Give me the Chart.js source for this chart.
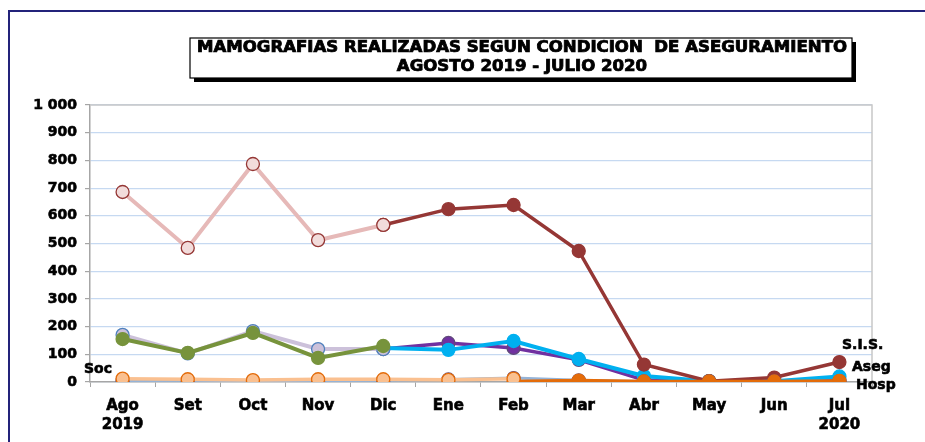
<!DOCTYPE html>
<html>
<head>
<meta charset="utf-8">
<script src="https://cdn.jsdelivr.net/npm/chart.js@4"></script>
<style>
html,body{margin:0;padding:0;background:#fff;}
#wrap{width:925px;height:442px;position:relative;}
</style>
</head>
<body>
<div id="wrap"><canvas id="c" width="925" height="442"></canvas></div>
<script>
// datos
const meses = [['Ago','2019'],'Set','Oct','Nov','Dic','Ene','Feb','Mar','Abr','May','Jun',['Jul','2020']];
const yTicks = [0,100,200,300,400,500,600,700,800,900,1000];

const sis2019  = [686,484,787,512,567,null,null,null,null,null,null,null];
const sis2020  = [null,null,null,null,567,624,639,473,63,3,16,72];
const aseg2019 = [170,103,184,119,119,null,null,null,null,null,null,null];
const aseg2020 = [null,null,null,null,119,141,123,80,7,3,4,8];
const verde    = [155,105,177,87,130,null,null,null,null,null,null,null];
const celeste  = [null,null,null,null,123,116,148,83,22,3,3,20];
const soc      = [5,6,4,5,6,9,14,6,2,2,2,3];
const hosp2019 = [12,10,7,10,10,8,12,null,null,null,null,null];
const hosp2020 = [null,null,null,null,null,null,2,5,2,2,2,4];

const FONT = '"DejaVu Sans", Verdana, sans-serif';

function serie(data, line, fill, border, order, lw){
    return {
        data: data,
        borderColor: line,
        backgroundColor: fill,
        pointBackgroundColor: fill,
        pointBorderColor: border,
        pointBorderWidth: 1.3,
        pointRadius: 6.5,
        borderWidth: lw || 3.5,
        spanGaps: false,
        tension: 0,
        order: order
    };
}

function negrita(ctx, txt, x, y){
    ctx.fillText(txt, x, y);
    ctx.strokeText(txt, x, y);
}

const decor = {
    id: 'decor',
    beforeDraw(chart){
        const ctx = chart.ctx;
        ctx.save();
        ctx.fillStyle = '#fff';
        ctx.fillRect(0,0,chart.width,chart.height);
        ctx.restore();
    },
    afterDraw(chart){
        const ctx = chart.ctx;
        const a = chart.chartArea;
        ctx.save();
        // marco exterior
        ctx.strokeStyle = '#23237a';
        ctx.lineWidth = 2;
        ctx.beginPath();
        ctx.moveTo(9,442); ctx.lineTo(9,11); ctx.lineTo(925,11);
        ctx.stroke();
        // borde area de trazado
        ctx.strokeStyle = '#c8c8c8';
        ctx.lineWidth = 1.5;
        ctx.beginPath();
        ctx.moveTo(a.left,a.top); ctx.lineTo(a.right,a.top); ctx.lineTo(a.right,a.bottom);
        ctx.stroke();

        // caja del titulo
        const bx = 190, by = 38, bw = 662, bh = 40;
        ctx.fillStyle = '#000';
        ctx.fillRect(bx+4, by+4, bw, bh);
        ctx.fillStyle = '#fff';
        ctx.fillRect(bx, by, bw, bh);
        ctx.strokeStyle = '#000';
        ctx.lineWidth = 1.2;
        ctx.strokeRect(bx, by, bw, bh);

        ctx.fillStyle = '#000';
        ctx.lineWidth = 0.7;
        ctx.font = 'bold 15px "DejaVu Sans Condensed", ' + FONT;
        ctx.textAlign = 'center';
        ctx.textBaseline = 'middle';
        const t1 = 'MAMOGRAFIAS REALIZADAS SEGUN CONDICION  DE ASEGURAMIENTO';
        const t2 = 'AGOSTO 2019 - JULIO 2020';
        const k = 650 / ctx.measureText(t1).width;
        [[t1,48],[t2,67]].forEach(function(t){
            ctx.save();
            ctx.translate(522, t[1]);
            ctx.scale(k, 1);
            negrita(ctx, t[0], 0, 0);
            ctx.restore();
        });

        // etiquetas de series
        ctx.font = 'bold 14px ' + FONT;
        ctx.lineWidth = 0.6;
        ctx.textAlign = 'left';
        negrita(ctx, 'Soc', 84, 369);
        negrita(ctx, 'S.I.S.', 842, 345);
        negrita(ctx, 'Aseg', 852, 367);
        negrita(ctx, 'Hosp', 856, 385);
        ctx.restore();
    }
};

new Chart(document.getElementById('c'), {
    type: 'line',
    data: {
        labels: meses,
        datasets: [
            serie(hosp2019, '#fac090', '#fac090', '#e46c0a', 1),
            serie(hosp2020, '#e46c0a', '#e46c0a', '#e46c0a', 2),
            serie(soc, '#95b3d7', '#8064a2', '#604a7b', 3, 3),
            serie(sis2019, '#e6b9b8', '#f2dcdb', '#953735', 4, 4),
            serie(sis2020, '#953735', '#953735', '#953735', 5),
            serie(verde, '#77933c', '#77933c', '#77933c', 6, 4),
            serie(aseg2019, '#ccc1da', '#ccc1da', '#4f81bd', 7, 4),
            serie(celeste, '#00b0f0', '#00b0f0', '#00b0f0', 8, 4),
            serie(aseg2020, '#7030a0', '#7030a0', '#604a7b', 9)
        ]
    },
    options: {
        responsive: false,
        animation: false,
        events: [],
        layout: {padding: {left: 0, right: 53, top: 105, bottom: 0}},
        plugins: {legend: {display: false}, tooltip: {enabled: false}},
        scales: {
            y: {
                min: 0, max: 1000,
                afterFit(s){ s.width = 90; },
                afterBuildTicks(s){ s.ticks = yTicks.map(v => ({value: v})); },
                border: {color: '#a6a6a6', width: 1.5},
                grid: {color: '#c6d9f1', lineWidth: 1.2, tickLength: 5,
                       tickColor: '#a6a6a6'},
                ticks: {
                    color: '#000', padding: 8,
                    textStrokeColor: '#000', textStrokeWidth: 0.6,
                    font: {family: FONT, size: 14, weight: 'bold'},
                    callback: v => v === 1000 ? '1 000' : String(v)
                }
            },
            x: {
                afterFit(s){ s.height = 60; },
                offset: true,
                border: {color: '#a6a6a6', width: 1.5},
                grid: {offset: true, drawOnChartArea: false, tickLength: 5,
                       color: '#a6a6a6'},
                ticks: {
                    color: '#000', padding: 9, maxRotation: 0, autoSkip: false,
                    textStrokeColor: '#000', textStrokeWidth: 0.6,
                    font: {family: FONT, size: 15, weight: 'bold', lineHeight: 1.3}
                }
            }
        }
    },
    plugins: [decor]
});
</script>
</body>
</html>
